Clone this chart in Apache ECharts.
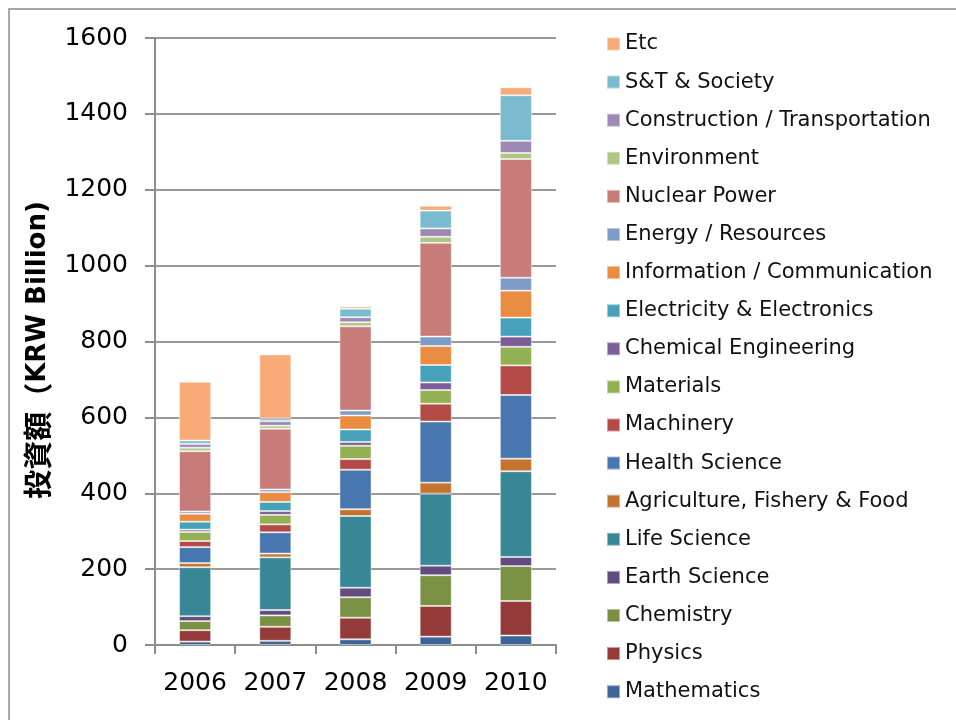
<!DOCTYPE html>
<html>
<head>
<meta charset="utf-8">
<script src="https://cdn.jsdelivr.net/npm/echarts@6/dist/echarts.min.js"></script>
<style>html,body{margin:0;padding:0;background:#fff;}#c{width:956px;height:720px;}</style>
</head>
<body>
<div id="c"></div>
<script>
const years = ['2006', '2007', '2008', '2009', '2010'];
const seriesNames = [
  'Mathematics', 'Physics', 'Chemistry', 'Earth Science', 'Life Science',
  'Agriculture, Fishery & Food', 'Health Science', 'Machinery', 'Materials',
  'Chemical Engineering', 'Electricity & Electronics', 'Information / Communication',
  'Energy / Resources', 'Nuclear Power', 'Environment', 'Construction / Transportation',
  'S&T & Society', 'Etc'
];
const mathematics   = [9, 11, 15, 22, 25];
const physics       = [30, 37, 57, 81, 91];
const chemistry     = [24, 30, 54, 81, 92];
const earthScience  = [13, 14, 25, 25, 24];
const lifeScience   = [129, 139, 189, 190, 226];
const agriculture   = [11, 10, 18, 29, 33];
const healthScience = [42, 56, 104, 161, 168];
const machinery     = [16, 21, 28, 47, 78];
const materials     = [24, 25, 35, 36, 49];
const chemEng       = [6, 10, 10, 20, 27];
const electricity   = [21, 24, 33, 46, 50];
const infoComm      = [21, 26, 37, 50, 71];
const energy        = [6, 7, 13, 25, 34];
const nuclear       = [159, 160, 222, 247, 313];
const environment   = [9, 8, 11, 16, 16];
const construction  = [10, 12, 13, 22, 32];
const stSociety     = [9, 7, 22, 47, 120];
const etc           = [155, 169, 6, 13, 21];
const yTicks = [0, 200, 400, 600, 800, 1000, 1200, 1400, 1600];

const values = [mathematics, physics, chemistry, earthScience, lifeScience, agriculture,
  healthScience, machinery, materials, chemEng, electricity, infoComm, energy, nuclear,
  environment, construction, stSociety, etc];
const colors = ['#3E6597', '#943B3A', '#7A9144', '#624B7E', '#388797', '#C4742F',
  '#4877B0', '#B34A46', '#93B153', '#7B5E97', '#45A2BA', '#E98D40', '#7E9CC8',
  '#C87C7A', '#AEC685', '#9E88B4', '#7BBBCF', '#F8AB77'];

const font = '"DejaVu Sans", Verdana, sans-serif';
const chart = echarts.init(document.getElementById('c'));
chart.setOption({
  animation: false,
  backgroundColor: '#fff',
  color: colors,
  grid: { left: 155, right: 400, top: 38, bottom: 75, containLabel: false },
  legend: {
    orient: 'vertical',
    left: 601,
    top: 27,
    data: seriesNames.slice().reverse(),
    icon: 'rect',
    itemWidth: 13,
    itemHeight: 13,
    itemGap: 14.1,
    textStyle: { fontFamily: font, fontSize: 21, color: '#111', lineHeight: 24 },
    selectedMode: false
  },
  xAxis: {
    type: 'category',
    data: years,
    axisLine: { show: true, lineStyle: { color: '#8c8c8c', width: 2 } },
    axisTick: { show: true, length: 9, lineStyle: { color: '#8c8c8c', width: 2 } },
    axisLabel: { fontFamily: font, fontSize: 25, color: '#000', margin: 26, interval: 0 }
  },
  yAxis: {
    type: 'value',
    min: 0, max: 1600, interval: 200,
    axisLine: { show: true, lineStyle: { color: '#8c8c8c', width: 2 } },
    axisTick: { show: true, length: 10, lineStyle: { color: '#8c8c8c', width: 2 } },
    splitLine: { show: true, lineStyle: { color: '#9a9a9a', width: 2 } },
    axisLabel: {
      fontFamily: font, fontSize: 25, color: '#000', margin: 27,
      formatter: v => (yTicks.indexOf(v) >= 0 ? String(v) : '')
    }
  },
  series: seriesNames.map((name, i) => ({
    name: name,
    type: 'bar',
    stack: 'total',
    barWidth: '40%',
    data: values[i],
    itemStyle: { color: colors[i], borderColor: 'rgba(255,255,255,0.45)', borderWidth: 1 }
  })),
  graphic: [
    {
      type: 'rect', silent: true, z: -1,
      shape: { x: 9, y: 9, width: 1200, height: 1200 },
      style: { fill: 'none', stroke: '#8a8a8a', lineWidth: 1.5 }
    },
    {
      type: 'text', silent: true,
      x: 38, y: 350, rotation: Math.PI / 2,
      style: {
        text: '{a|投資額（}{b|KRW Billion)}',
        align: 'center', verticalAlign: 'middle',
        rich: {
          a: { fontFamily: '"Noto Sans CJK JP", sans-serif', fontSize: 29, fontWeight: 'bold', fill: '#000' },
          b: { fontFamily: font, fontSize: 26, fontWeight: 'bold', fill: '#000' }
        }
      }
    }
  ]
});
</script>
</body>
</html>
